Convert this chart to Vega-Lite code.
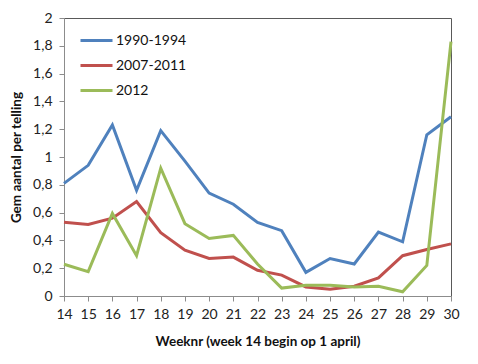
{
  "$schema": "https://vega.github.io/schema/vega-lite/v6.json",
  "autosize": "none",
  "width": 387,
  "height": 278,
  "padding": {"left": 64, "top": 18, "right": 27, "bottom": 68},
  "background": "white",
  "config": {
    "font": "Lato",
    "view": {"stroke": "#595959", "strokeWidth": 1},
    "axis": {"labelFont": "Lato", "titleFont": "Lato", "labelColor": "#222", "titleColor": "#111", "domainColor": "#8c8c8c", "tickColor": "#8c8c8c", "grid": false, "labelFontSize": 14, "titleFontSize": 13.5, "titleFontWeight": "bold"}
  },
  "data": {"values": [
    {"week": 14, "reeks": "1990-1994", "v": 0.81},
    {"week": 15, "reeks": "1990-1994", "v": 0.94},
    {"week": 16, "reeks": "1990-1994", "v": 1.23},
    {"week": 17, "reeks": "1990-1994", "v": 0.76},
    {"week": 18, "reeks": "1990-1994", "v": 1.19},
    {"week": 19, "reeks": "1990-1994", "v": 0.97},
    {"week": 20, "reeks": "1990-1994", "v": 0.74},
    {"week": 21, "reeks": "1990-1994", "v": 0.66},
    {"week": 22, "reeks": "1990-1994", "v": 0.53},
    {"week": 23, "reeks": "1990-1994", "v": 0.47},
    {"week": 24, "reeks": "1990-1994", "v": 0.17},
    {"week": 25, "reeks": "1990-1994", "v": 0.27},
    {"week": 26, "reeks": "1990-1994", "v": 0.23},
    {"week": 27, "reeks": "1990-1994", "v": 0.46},
    {"week": 28, "reeks": "1990-1994", "v": 0.39},
    {"week": 29, "reeks": "1990-1994", "v": 1.16},
    {"week": 30, "reeks": "1990-1994", "v": 1.29},
    {"week": 14, "reeks": "2007-2011", "v": 0.53},
    {"week": 15, "reeks": "2007-2011", "v": 0.515},
    {"week": 16, "reeks": "2007-2011", "v": 0.56},
    {"week": 17, "reeks": "2007-2011", "v": 0.68},
    {"week": 18, "reeks": "2007-2011", "v": 0.455},
    {"week": 19, "reeks": "2007-2011", "v": 0.33},
    {"week": 20, "reeks": "2007-2011", "v": 0.27},
    {"week": 21, "reeks": "2007-2011", "v": 0.28},
    {"week": 22, "reeks": "2007-2011", "v": 0.185},
    {"week": 23, "reeks": "2007-2011", "v": 0.15},
    {"week": 24, "reeks": "2007-2011", "v": 0.065},
    {"week": 25, "reeks": "2007-2011", "v": 0.048},
    {"week": 26, "reeks": "2007-2011", "v": 0.07},
    {"week": 27, "reeks": "2007-2011", "v": 0.13},
    {"week": 28, "reeks": "2007-2011", "v": 0.29},
    {"week": 29, "reeks": "2007-2011", "v": 0.335},
    {"week": 30, "reeks": "2007-2011", "v": 0.375},
    {"week": 14, "reeks": "2012", "v": 0.228},
    {"week": 15, "reeks": "2012", "v": 0.175},
    {"week": 16, "reeks": "2012", "v": 0.594},
    {"week": 17, "reeks": "2012", "v": 0.29},
    {"week": 18, "reeks": "2012", "v": 0.92},
    {"week": 19, "reeks": "2012", "v": 0.52},
    {"week": 20, "reeks": "2012", "v": 0.414},
    {"week": 21, "reeks": "2012", "v": 0.436},
    {"week": 22, "reeks": "2012", "v": 0.23},
    {"week": 23, "reeks": "2012", "v": 0.057},
    {"week": 24, "reeks": "2012", "v": 0.077},
    {"week": 25, "reeks": "2012", "v": 0.077},
    {"week": 26, "reeks": "2012", "v": 0.065},
    {"week": 27, "reeks": "2012", "v": 0.07},
    {"week": 28, "reeks": "2012", "v": 0.03},
    {"week": 29, "reeks": "2012", "v": 0.22},
    {"week": 30, "reeks": "2012", "v": 1.83}
  ]},
  "mark": {"type": "line", "strokeWidth": 3},
  "encoding": {
    "x": {"field": "week", "type": "quantitative", "scale": {"domain": [14, 30], "nice": false, "zero": false},
      "axis": {"values": [14,15,16,17,18,19,20,21,22,23,24,25,26,27,28,29,30], "title": "Weeknr (week 14 begin op 1 april)", "tickSize": 5, "labelPadding": 6, "titlePadding": 13, "labelFlush": false}},
    "y": {"field": "v", "type": "quantitative", "scale": {"domain": [0, 2], "nice": false},
      "axis": {"values": [0,0.2,0.4,0.6,0.8,1,1.2,1.4,1.6,1.8,2], "labelExpr": "replace(format(datum.value, '~g'), '.', ',')", "title": "Gem aantal per telling", "tickSize": 5, "labelPadding": 7, "titlePadding": 9}},
    "color": {"field": "reeks", "type": "nominal",
      "scale": {"domain": ["1990-1994", "2007-2011", "2012"], "range": ["#4F81BD", "#C0504D", "#9BBB59"]},
      "legend": {"title": null, "orient": "none", "legendX": 15, "legendY": 5, "symbolType": "stroke", "symbolSize": 1024, "symbolStrokeWidth": 3, "labelFontSize": 14, "labelFont": "Lato", "labelColor": "#111", "rowPadding": -2, "labelOffset": 2}}
  }
}
